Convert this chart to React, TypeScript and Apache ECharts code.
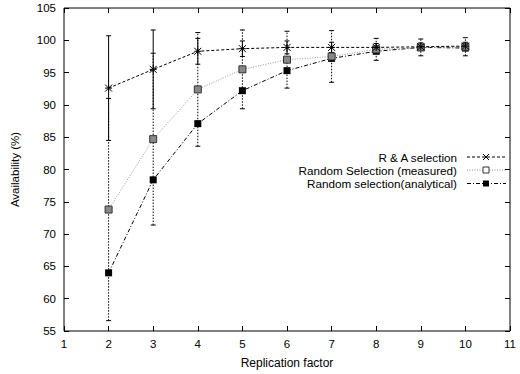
import React, { useEffect, useRef } from "react";
import * as echarts from "echarts";

const replication = [2, 3, 4, 5, 6, 7, 8, 9, 10];
const raSelection = [92.6, 95.5, 98.3, 98.7, 98.9, 98.9, 98.9, 99.0, 99.1];
const raError = [8.1, 6.1, 2.0, 1.2, 1.0, 0.8, 0.6, 0.6, 0.6];
const randomMeasured = [73.8, 84.7, 92.4, 95.5, 97.0, 97.5, 98.6, 98.9, 99.0];
const measuredError = [17.2, 13.3, 8.8, 6.1, 4.4, 4.0, 1.7, 1.3, 1.4];
const randomAnalytical = [64.0, 78.4, 87.1, 92.2, 95.3, 97.2, 98.3, 98.9, 98.8];
const legendNames = [
  "R & A selection",
  "Random Selection (measured)",
  "Random selection(analytical)",
];

const FONT = "Liberation Sans, Arial, Helvetica, sans-serif";
const crossPath = "path://M0,0L10,10M10,0L0,10M5,0L5,10M0,5L10,5";

function errorSeries(name: string, vals: number[], errs: number[], dash: number[] | null, z: number) {
  return {
    type: "custom",
    name,
    z,
    silent: true,
    data: replication.map((x, i) => [x, vals[i] - errs[i], vals[i] + errs[i]]),
    renderItem: (params: any, api: any) => {
      const x = api.value(0);
      const lo = api.coord([x, api.value(1)]);
      const hi = api.coord([x, api.value(2)]);
      const style: any = { stroke: "#000", lineWidth: 1 };
      if (dash) style.lineDash = dash;
      const cap = 2.5;
      return {
        type: "group",
        children: [
          { type: "line", shape: { x1: lo[0], y1: lo[1], x2: hi[0], y2: hi[1] }, style },
          { type: "line", shape: { x1: lo[0] - cap, y1: lo[1], x2: lo[0] + cap, y2: lo[1] }, style: { stroke: "#000", lineWidth: 1 } },
          { type: "line", shape: { x1: hi[0] - cap, y1: hi[1], x2: hi[0] + cap, y2: hi[1] }, style: { stroke: "#000", lineWidth: 1 } },
        ],
      };
    },
  };
}

export default function App() {
  const ref = useRef<HTMLDivElement>(null);
  useEffect(() => {
    if (!ref.current) return;
    const chart = echarts.init(ref.current, null, { renderer: "svg" });
    const axisCommon = {
      type: "value",
      axisLine: { show: false },
      splitLine: { show: false },
      axisTick: { show: true, inside: true, length: 5, lineStyle: { color: "#000" } },
    };
    const legendY = [157, 170, 183.5];
    const legendStyles = [
      { dash: [3, 2], color: "#000" },
      { dash: [1, 1.5], color: "#888" },
      { dash: [4, 2, 1, 2], color: "#000" },
    ];
    const mx = 486;
    const graphicEls: any[] = [];
    legendNames.forEach((n, i) => {
      graphicEls.push({
        type: "text",
        x: 457,
        y: legendY[i],
        style: { text: n, font: `11.7px ${FONT}`, fill: "#000", align: "right", verticalAlign: "middle" },
      });
      graphicEls.push({
        type: "line",
        shape: { x1: 467, y1: legendY[i], x2: 506, y2: legendY[i] },
        style: { stroke: legendStyles[i].color, lineWidth: 1, lineDash: legendStyles[i].dash },
      });
    });
    graphicEls.push({
      type: "group",
      children: [
        { type: "line", shape: { x1: mx - 3, y1: legendY[0] - 3, x2: mx + 3, y2: legendY[0] + 3 }, style: { stroke: "#000", lineWidth: 1 } },
        { type: "line", shape: { x1: mx + 3, y1: legendY[0] - 3, x2: mx - 3, y2: legendY[0] + 3 }, style: { stroke: "#000", lineWidth: 1 } },
        { type: "rect", shape: { x: mx - 3, y: legendY[1] - 3, width: 6, height: 6 }, style: { fill: "#fff", stroke: "#333", lineWidth: 1 } },
        { type: "rect", shape: { x: mx - 3, y: legendY[2] - 3, width: 6, height: 6 }, style: { fill: "#000" } },
      ],
    });

    chart.setOption({
      animation: false,
      textStyle: { fontFamily: FONT },
      grid: { left: 64, right: 10, top: 8, bottom: 41, show: true, borderColor: "#000", borderWidth: 1 },
      xAxis: [
        {
          ...axisCommon,
          min: 1,
          max: 11,
          interval: 1,
          name: "Replication factor",
          nameLocation: "middle",
          nameGap: 26,
          nameTextStyle: { fontSize: 12, color: "#000", fontFamily: FONT },
          axisLabel: { fontSize: 11.5, color: "#000", margin: 7, fontFamily: FONT },
        },
        {
          ...axisCommon,
          position: "top",
          min: 1,
          max: 11,
          interval: 1,
          axisLabel: { show: false },
        },
      ],
      yAxis: [
        {
          ...axisCommon,
          min: 55,
          max: 105,
          interval: 5,
          name: "Availability (%)",
          nameLocation: "middle",
          nameGap: 43,
          nameTextStyle: { fontSize: 11.5, color: "#000", fontFamily: FONT },
          axisLabel: { fontSize: 11.5, color: "#000", margin: 8, fontFamily: FONT },
        },
        {
          ...axisCommon,
          position: "right",
          min: 55,
          max: 105,
          interval: 5,
          axisLabel: { show: false },
        },
      ],
      graphic: graphicEls,
      series: [
        errorSeries("raErr", raSelection, raError, null, 2),
        errorSeries("measErr", randomMeasured, measuredError, [1.5, 1.5], 1),
        {
          type: "line",
          name: legendNames[2],
          data: replication.map((x, i) => [x, randomAnalytical[i]]),
          symbol: "rect",
          symbolSize: 7,
          itemStyle: { color: "#000" },
          lineStyle: { color: "#000", width: 1, type: [4, 2, 1, 2] },
          z: 3,
        },
        {
          type: "line",
          name: legendNames[1],
          data: replication.map((x, i) => [x, randomMeasured[i]]),
          symbol: "rect",
          symbolSize: 7,
          itemStyle: { color: "#888", borderColor: "#333", borderWidth: 1 },
          lineStyle: { color: "#999", width: 1, type: [1, 1.5] },
          z: 4,
        },
        {
          type: "line",
          name: legendNames[0],
          data: replication.map((x, i) => [x, raSelection[i]]),
          symbol: crossPath,
          symbolSize: 7,
          itemStyle: { color: "#000", borderColor: "#000", borderWidth: 1 },
          lineStyle: { color: "#000", width: 1, type: [3, 2] },
          z: 5,
        },
      ],
    });
    return () => chart.dispose();
  }, []);
  return <div ref={ref} style={{ width: 520, height: 374, position: "absolute", left: 0, top: 0 }} />;
}
